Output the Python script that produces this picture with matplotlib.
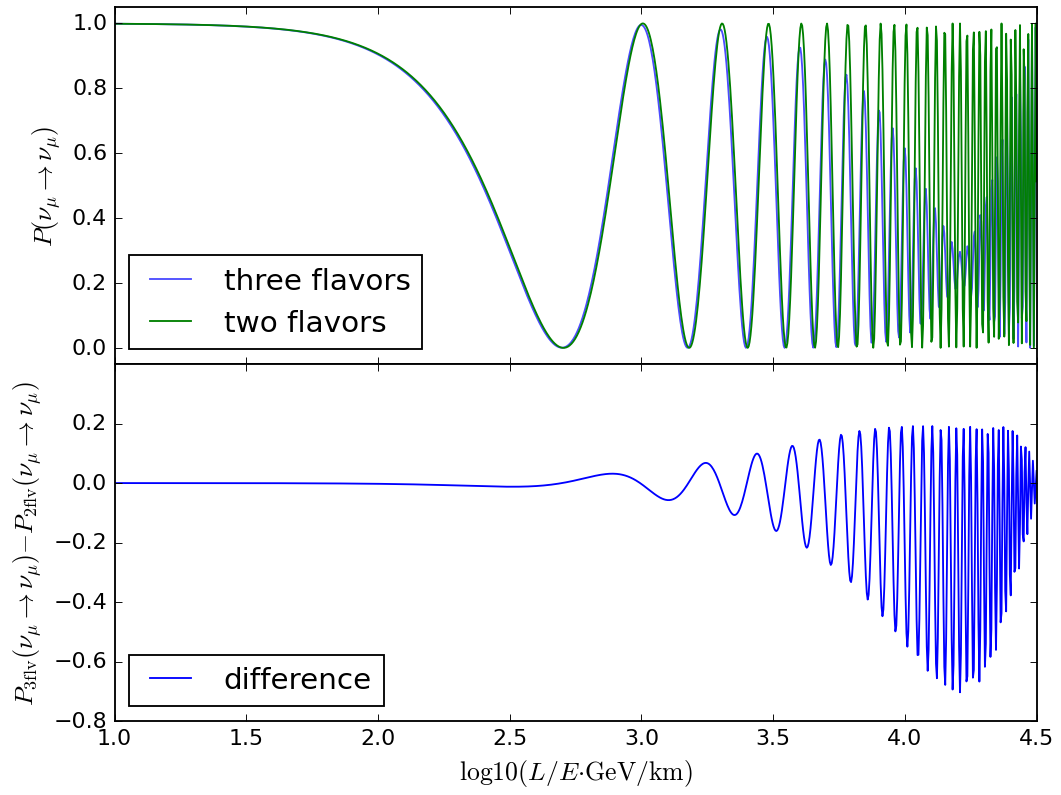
import numpy as np
import matplotlib
matplotlib.use("Agg")
import matplotlib.pyplot as plt

plt.style.use("classic")

# oscillation parameters (normal ordering, delta_CP = 0)
theta12 = np.radians(33.5)
theta13 = np.radians(8.5)
theta23 = np.radians(45.0)
dm21 = 7.6e-5    # eV^2
dm32 = 2.45e-3   # eV^2
dm31 = dm32 + dm21

x_range = [1.0, 4.5]
n_points = 1000

xticks = [1.0, 1.5, 2.0, 2.5, 3.0, 3.5, 4.0, 4.5]
yticks_top = [0.0, 0.2, 0.4, 0.6, 0.8, 1.0]
yticks_bot = [-0.8, -0.6, -0.4, -0.2, 0.0, 0.2]

x = np.linspace(x_range[0], x_range[1], n_points)
LE = 10 ** x

s12, c12 = np.sin(theta12), np.cos(theta12)
s13, c13 = np.sin(theta13), np.cos(theta13)
s23, c23 = np.sin(theta23), np.cos(theta23)
Um1 = (-s12 * c23 - c12 * s23 * s13) ** 2
Um2 = (c12 * c23 - s12 * s23 * s13) ** 2
Um3 = (s23 * c13) ** 2

def s2(dm):
    return np.sin(1.267 * dm * LE) ** 2

P3 = 1 - 4 * (Um1 * Um2 * s2(dm21) + Um1 * Um3 * s2(dm31) + Um2 * Um3 * s2(dm32))
P2 = 1 - np.sin(2 * theta23) ** 2 * s2(dm32)
diff = P3 - P2

fig, (ax1, ax2) = plt.subplots(2, 1, sharex=True, figsize=(8, 6), dpi=132.625)
fig.subplots_adjust(left=0.108, right=0.977, top=0.99, bottom=0.093, hspace=0)

ax1.plot(x, P3, "b", alpha=0.7, label="three flavors")
ax1.plot(x, P2, "g", label="two flavors")
ax1.set_ylim(-0.05, 1.05)
ax1.set_yticks(yticks_top)
ax1.set_ylabel(r"$P(\nu_\mu \rightarrow \nu_\mu)$", fontsize=14)
ax1.legend(loc="lower left", fontsize=16, handletextpad=0.8)

ax2.plot(x, diff, "b", label="difference")
ax2.set_ylim(-0.8, 0.4)
ax2.set_yticks(yticks_bot)
ax2.set_xlim(x_range)
ax2.set_xticks(xticks)
ax2.set_ylabel(r"$P_{\rm 3flv}(\nu_\mu \rightarrow \nu_\mu){-}P_{\rm 2flv}(\nu_\mu \rightarrow \nu_\mu)$",
               fontsize=14)
ax2.set_xlabel(r"${\rm log10}(L/E{\cdot}{\rm GeV/km})$", fontsize=14)
ax2.legend(loc="lower left", fontsize=16, handletextpad=0.8)

fig.savefig("out.png", dpi=132.625)
